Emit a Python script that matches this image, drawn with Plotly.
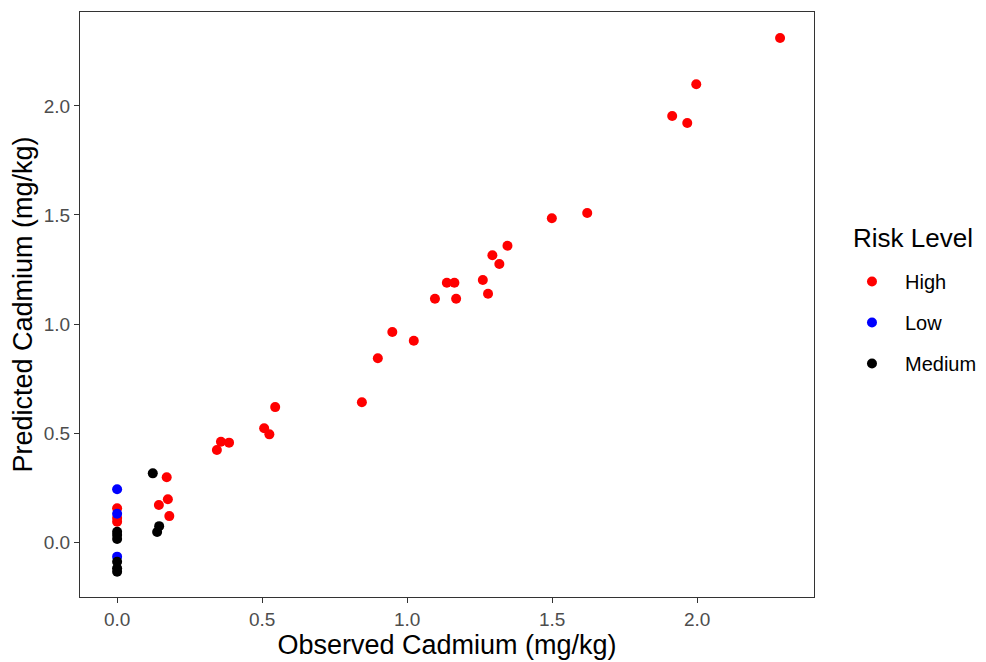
import plotly.graph_objects as go

# observed vs predicted cadmium (mg/kg), grouped by risk level
high_obs = [0.0, 0.0, 0.0, 0.171, 0.144, 0.175, 0.18, 0.344, 0.358, 0.386, 0.507, 0.525,
            0.545, 0.844, 0.899, 0.949, 1.023, 1.096, 1.137, 1.163, 1.169, 1.261, 1.279,
            1.294, 1.318, 1.346, 1.499, 1.621, 1.914, 1.966, 1.997, 2.286]
high_pred = [0.155, 0.11, 0.093, 0.297, 0.17, 0.196, 0.119, 0.422, 0.46, 0.456, 0.522, 0.494,
             0.619, 0.641, 0.843, 0.963, 0.923, 1.116, 1.189, 1.189, 1.116, 1.202, 1.139,
             1.315, 1.275, 1.359, 1.485, 1.509, 1.954, 1.922, 2.10, 2.312]

low_obs = [0.0, 0.0, 0.0]
low_pred = [0.242, 0.13, -0.067]

medium_obs = [0.0, 0.0, 0.0, 0.0, 0.0, 0.0, 0.123, 0.145, 0.138]
medium_pred = [0.047, 0.032, 0.014, -0.09, -0.12, -0.136, 0.315, 0.073, 0.046]

groups = [
    ("High", high_obs, high_pred, "#FF0000"),
    ("Low", low_obs, low_pred, "#0000FF"),
    ("Medium", medium_obs, medium_pred, "#000000"),
]

ticks = [0, 0.5, 1, 1.5, 2]
tick_text = ["0.0", "0.5", "1.0", "1.5", "2.0"]

fig = go.Figure()
for name, xs, ys, col in groups:
    fig.add_trace(go.Scatter(x=xs, y=ys, mode="markers", name=name,
                             legendgroup=name,
                             marker=dict(color=col, size=10)))

axis_style = dict(showgrid=False, zeroline=False, showline=True, mirror=True,
                  linecolor="#333333", linewidth=1.2,
                  ticks="outside", ticklen=5, tickcolor="#333333",
                  tickvals=ticks, ticktext=tick_text,
                  tickfont=dict(size=19, color="#4d4d4d"))

fig.update_xaxes(range=[-0.128, 2.403],
                 title=dict(text="Observed Cadmium (mg/kg)", font=dict(size=27, color="black"),
                            standoff=4),
                 **axis_style)
fig.update_yaxes(range=[-0.252, 2.431],
                 title=dict(text="Predicted Cadmium (mg/kg)", font=dict(size=27, color="black"),
                            standoff=6),
                 **axis_style)

# legend heading placed as its own text, left of the keys like ggplot does
fig.add_annotation(text="Risk Level", xref="paper", yref="paper", x=1.050, y=0.6137,
                   xanchor="left", yanchor="middle", showarrow=False,
                   font=dict(size=26, color="black"))

fig.update_layout(width=978, height=654,
                  margin=dict(l=72, r=172, t=4, b=65),
                  plot_bgcolor="white", paper_bgcolor="white",
                  font=dict(family="Liberation Sans, Arial, sans-serif"),
                  legend=dict(font=dict(size=20, color="black"),
                              xref="container", yref="container",
                              x=0.9959, y=0.6116, xanchor="right", yanchor="top",
                              tracegroupgap=12, itemsizing="trace", itemwidth=56))

fig.write_html("out.html")
